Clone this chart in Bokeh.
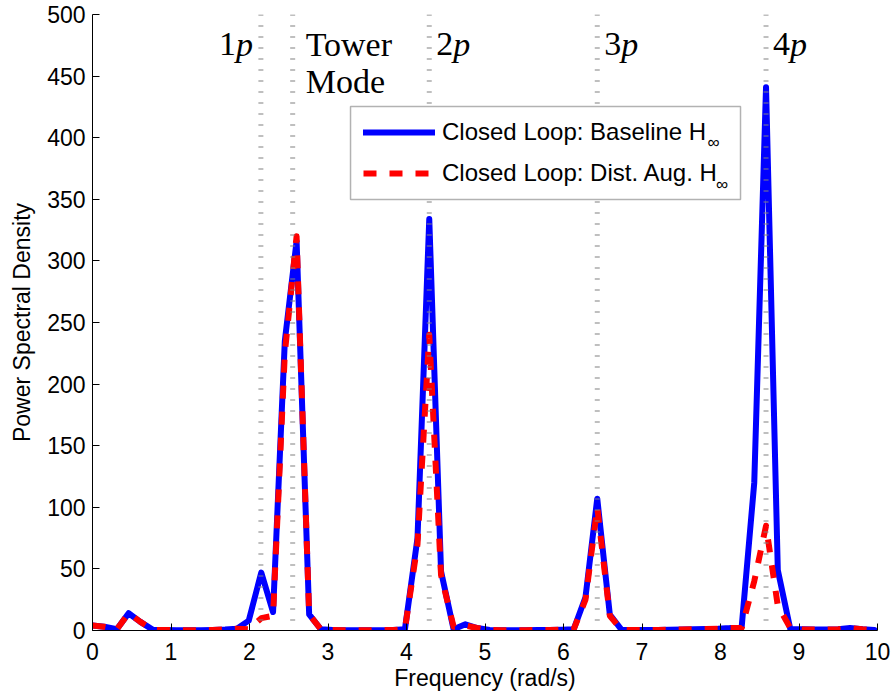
from bokeh.plotting import figure
from bokeh.models import Span, Label, Legend, LegendItem, FixedTicker, BoxAnnotation
from bokeh.embed import file_html
from bokeh.resources import INLINE

# ---- data ----
freq = [0.00, 0.15, 0.31, 0.46, 0.61, 0.77, 0.92, 1.07, 1.23, 1.38, 1.53, 1.69,
        1.84, 1.99, 2.15, 2.30, 2.45, 2.60, 2.76, 2.91, 3.06, 3.22, 3.37, 3.52,
        3.68, 3.83, 3.98, 4.14, 4.29, 4.44, 4.60, 4.75, 4.90, 5.06, 5.21, 5.36,
        5.52, 5.67, 5.82, 5.98, 6.13, 6.28, 6.43, 6.59, 6.74, 6.89, 7.05, 7.20,
        7.35, 7.51, 7.66, 7.81, 7.97, 8.12, 8.27, 8.43, 8.58, 8.73, 8.89, 9.04,
        9.19, 9.35, 9.50, 9.65, 9.81, 9.96]

psd_baseline = [4, 3, 1, 14, 7, 0.5, 0.5, 0.3, 0.3, 0.3, 0.5, 0.8,
                1.5, 8, 47, 15, 235, 316, 13, 1, 0.5, 0.3, 0.3, 0.3,
                0.3, 0.5, 1, 75, 334, 48, 1, 5, 2, 0.5, 0.3, 0.3,
                0.3, 0.4, 0.5, 0.7, 1, 27, 107, 13, 0.5, 0.4, 0.4, 0.5,
                0.6, 0.8, 1, 1.2, 1.5, 2, 3, 120, 441, 49, 1, 1,
                0.8, 0.8, 1, 2, 1, 0.5]

psd_dist_aug = [4, 3, 1, 14, 7, 0.5, 0.5, 0.3, 0.3, 0.3, 0.5, 0.8,
                1.5, 1, 10, 12, 225, 320, 13, 1, 0.5, 0.3, 0.3, 0.3,
                0.3, 0.5, 1, 70, 240, 45, 3, 4, 2, 0.5, 0.3, 0.3,
                0.3, 0.4, 0.5, 0.7, 1, 25, 100, 12, 0.5, 0.4, 0.4, 0.5,
                0.6, 0.8, 1, 1.2, 1.5, 2, 2, 40, 85, 20, 2, 1,
                0.8, 0.8, 1, 2, 1, 0.5]

marker_freqs = [2.145, 2.55, 4.29, 6.43, 8.58]   # 1p, tower mode, 2p, 3p, 4p
x_ticks = [0, 1, 2, 3, 4, 5, 6, 7, 8, 9, 10]
y_ticks = [0, 50, 100, 150, 200, 250, 300, 350, 400, 450, 500]
series_names = ["Closed Loop: Baseline H", "Closed Loop: Dist. Aug. H"]

SANS = "Liberation Sans"
SERIF = "Liberation Serif"

p = figure(width=891, height=698, x_range=(0, 10), y_range=(0, 500),
           output_backend="svg", toolbar_location=None,
           min_border_left=92, min_border_right=14, min_border_top=14,
           min_border_bottom=68)
p.outline_line_color = None
p.grid.visible = False
p.background_fill_color = "white"
p.border_fill_color = "white"

r_base = p.line(freq, psd_baseline, line_color="#0000ff", line_width=6,
                line_join="round", line_cap="round")
r_aug = p.line(freq, psd_dist_aug, line_color="#ff0000", line_width=6,
               line_dash="13 13", line_join="round")

for f in marker_freqs:
    p.add_layout(Span(location=f, dimension="height", line_color="#808080",
                      line_width=5, line_dash="1 10"))

# axes
p.xaxis.ticker = FixedTicker(ticks=x_ticks)
p.yaxis.ticker = FixedTicker(ticks=y_ticks)
for ax in (p.xaxis[0], p.yaxis[0]):
    ax.minor_tick_line_color = None
    ax.major_tick_in = 7
    ax.major_tick_out = 0
    ax.axis_line_color = "black"
    ax.major_tick_line_color = "black"
    ax.major_label_text_font = SANS
    ax.major_label_text_font_size = "23px"
    ax.major_label_text_color = "black"
    ax.axis_label_text_font = SANS
    ax.axis_label_text_font_size = "23px"
    ax.axis_label_text_font_style = "normal"
    ax.axis_label_text_color = "black"
p.xaxis.axis_label = "Frequency (rad/s)"
p.yaxis.axis_label = "Power Spectral Density"
p.xaxis.major_label_standoff = 12
p.yaxis.major_label_standoff = 7
p.xaxis.axis_label_standoff = 2
p.yaxis.axis_label_standoff = 9

# harmonic annotations
def lab(x, y, text, xo, align="left", style="normal"):
    p.add_layout(Label(x=x, y=y, text=text, x_offset=xo, text_align=align,
                       text_baseline="alphabetic", text_font=SERIF,
                       text_font_size="34px", text_font_style=style,
                       text_color="black"))

lab(marker_freqs[0], 476, "p", -8, align="right", style="italic")
lab(marker_freqs[0], 476, "1", -25, align="right")
lab(marker_freqs[1], 476, "Tower", 13)
lab(marker_freqs[1], 446, "Mode", 13)
for f, n in zip(marker_freqs[2:], ["2", "3", "4"]):
    lab(f, 476, n, 7)
    lab(f, 476, "p", 24, style="italic")

# legend frame (white box covering the dotted lines), then transparent legend
p.add_layout(BoxAnnotation(left=3.287, right=8.255, top=425.3, bottom=349.8,
                           fill_color="white", fill_alpha=1,
                           line_color="black", line_width=1.5))

# subscript infinity signs of the legend labels
for xx, yy in [(7.91, 396), (8.02, 362)]:
    p.add_layout(Label(x=xx, y=yy, text="\u221e", text_align="center",
                       text_baseline="middle", text_font=SANS,
                       text_font_size="17px", text_color="black"))

legend = Legend(items=[LegendItem(label=series_names[0], renderers=[r_base]),
                       LegendItem(label=series_names[1], renderers=[r_aug])],
                location=(271, 443), label_text_font=SANS,
                label_text_font_size="24px", label_text_color="black",
                glyph_width=72, glyph_height=26,
                label_height=26, label_standoff=7, padding=0, spacing=13,
                margin=0, border_line_color=None, background_fill_alpha=0,
                label_width=284)
p.add_layout(legend)

open("out.html", "w").write(file_html(p, INLINE))
